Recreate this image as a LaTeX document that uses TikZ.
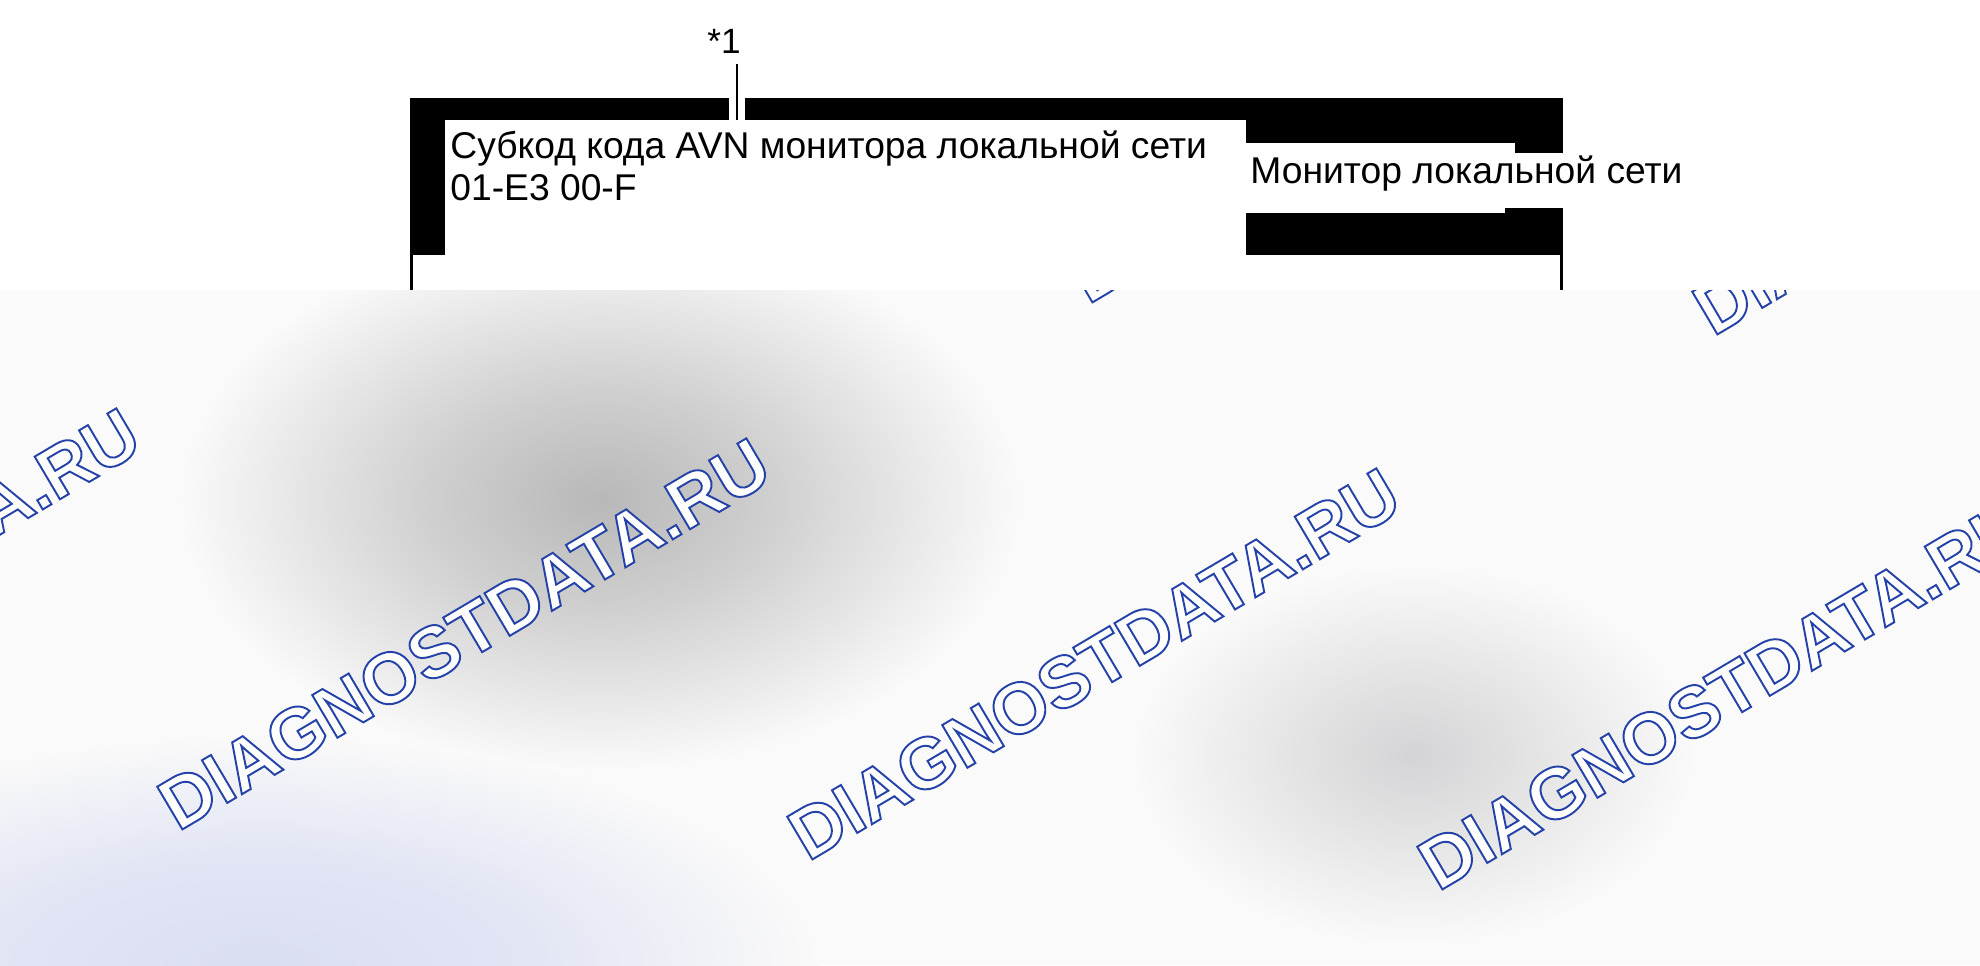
\documentclass[tikz,border=0pt]{standalone}
\usepackage{fontspec}
\setmainfont{Liberation Sans}
\definecolor{wmblue}{RGB}{36,66,168}
\definecolor{blobgray}{RGB}{184,184,184}
\definecolor{lightblob}{RGB}{212,212,214}
\definecolor{bluetint}{RGB}{218,222,242}
\definecolor{overlaybg}{RGB}{250,250,250}
\usetikzlibrary{positioning}
\pgfdeclareradialshading{darkblob}{\pgfpointorigin}{color(0bp)=(blobgray); color(10bp)=(blobgray!65!overlaybg); color(25bp)=(overlaybg); color(50bp)=(overlaybg)}
\pgfdeclareradialshading{paleblob}{\pgfpointorigin}{color(0bp)=(lightblob); color(9bp)=(lightblob!65!overlaybg); color(25bp)=(overlaybg); color(50bp)=(overlaybg)}
\pgfdeclareradialshading{blueblob}{\pgfpointorigin}{color(0bp)=(bluetint); color(12bp)=(bluetint!75!overlaybg); color(25bp)=(overlaybg); color(50bp)=(overlaybg)}
% outlined text: white fill, blue stroke
\newcommand{\outlinetext}[1]{{\color{white}\special{pdf:literal direct 0.14 0.26 0.66 RG 1.1 w 2 Tr}#1\special{pdf:literal direct 0 Tr}}}
\tikzset{
  labeltext/.style={font=\fontsize{21.2}{24}\selectfont, inner sep=0pt, anchor=base west},
  watermark/.style={font=\fontsize{41}{45}\selectfont\bfseries, inner sep=0pt, anchor=base west, rotate=30.6},
}

\begin{document}
\begin{tikzpicture}[x=0.02cm, y=-0.02cm]
  \useasboundingbox (0,0) rectangle (1980,965);
  \fill[white] (0,0) rectangle (1980,965);

  % frame:
  \fill (410,98) rectangle (1563,120);
  \fill (410,120) rectangle (445,255);
  \fill (1246,120) rectangle (1563,143);
  \fill (1515,143) rectangle (1563,153);
  \fill (1246,213) rectangle (1563,255);
  \fill (1505,208) rectangle (1563,213);
  \draw [line width=1.6pt] (411.5,255) -- ++(0,35);
  \draw [line width=1.6pt] (1561.5,255) -- ++(0,35);

  % texts:
  \node [labeltext] (sub) at (450,158) {Субкод кода AVN монитора локальной сети};
  \node [labeltext] (code) at (450,200) {01-E3 00-F};
  \node [labeltext] (mon) at (1250,183) {Монитор локальной сети};

  % *1 leader:
  \node [font=\fontsize{20}{24}\selectfont, inner sep=0pt] (star) at (724,41) {*1};
  \coordinate (tip) at (737,120);
  \draw [white, line width=9.5pt] (737,98) -- (tip);
  \draw [line width=1.5pt, shorten <=6pt] (star.south -| tip) -- (tip);

  % overlay:
  \begin{scope}
    \clip (0,290) rectangle (1980,965);
    \fill [overlaybg] (0,290) rectangle (1980,965);
    \shade [shading=darkblob] (600,500) ellipse (420 and 270);
    \shade [shading=paleblob] (1414,755) ellipse (280 and 190);
    \shade [shading=blueblob] (260,965) ellipse (560 and 230);
    \foreach \x/\y [count=\i] in {-452/802, 178/832, 808/862, 1438/892, 1088/305, 1713/337}
      \node [watermark] (wm\i) at (\x,\y) {\outlinetext{DIAGNOSTDATA.RU}};
  \end{scope}

\end{tikzpicture}
\end{document}
